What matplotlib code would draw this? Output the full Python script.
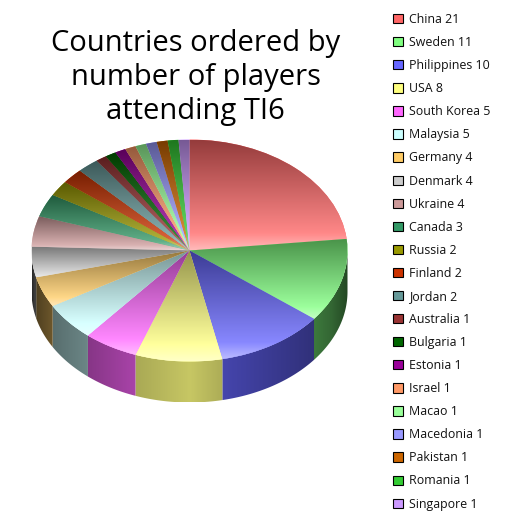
import numpy as np
import matplotlib
matplotlib.use("Agg")
import matplotlib.pyplot as plt
from matplotlib.patches import Patch, Polygon
from matplotlib.colors import to_rgb

countries = ["China", "Sweden", "Philippines", "USA", "South Korea", "Malaysia", "Germany",
             "Denmark", "Ukraine", "Canada", "Russia", "Finland", "Jordan", "Australia",
             "Bulgaria", "Estonia", "Israel", "Macao", "Macedonia", "Pakistan", "Romania", "Singapore"]
players = [21, 11, 10, 8, 5, 5, 4, 4, 4, 3, 2, 2, 2, 1, 1, 1, 1, 1, 1, 1, 1, 1]
colors = ["#FF6666", "#80FF80", "#6666FF", "#FFFF80", "#FF66FF", "#CCFFFF", "#FFCC66", "#CCCCCC",
          "#CC9999", "#339966", "#999900", "#CC3300", "#669999", "#993333", "#006600", "#990099",
          "#FF9966", "#99FF99", "#9999FF", "#CC6600", "#33CC33", "#CC99FF"]
title_lines = ["Countries ordered by", "number of players", "attending TI6"]

W = 520
plt.rcParams["font.family"] = "Open Sans"
fig = plt.figure(figsize=(W / 100, W / 100), dpi=100, facecolor="white")

depth = 41 / 111
ax = fig.add_axes([31.5 / W, (W - 402.5) / W, 316 / W, 263 / W])
wedges, _ = ax.pie(players, colors=colors, startangle=90, counterclock=False, radius=1,
                   wedgeprops={"linewidth": 0})

shade_x = np.array([-1.0, -0.985, -0.87, -0.64, -0.35, 0.0, 0.2, 0.78, 0.9, 1.0])
shade_v = np.array([0.2, 0.3, 0.43, 0.53, 0.66, 0.78, 0.68, 0.48, 0.4, 0.28])


def top_gradient(rgb, n=128):
    t = np.linspace(0, 1, n)[:, None]  # 0 = top of slice, 1 = bottom
    c = np.array(rgb)[None, :]
    dark = c * 0.58
    mid = c + (1 - c) * 0.22
    light = c + (1 - c) * 0.55
    out = np.where(t < 0.85, dark + (mid - dark) * t / 0.85, mid + (light - mid) * (t - 0.85) / 0.15)
    return out[:, None, :]


# walls
xs = np.linspace(-1, 1, 400)
shade = np.interp(xs, shade_x, shade_v)
for w, col in zip(wedges, colors):
    a = np.radians(np.linspace(w.theta1, w.theta2, 200))
    lower = a[np.sin(a) <= 0]
    if lower.size < 2:
        continue
    x, y = np.cos(lower), np.sin(lower)
    pts = np.r_[np.c_[x, y], np.c_[x[::-1], y[::-1] - depth]]
    poly = Polygon(pts, closed=True, transform=ax.transData, fc="none", ec="none")
    ax.add_patch(poly)
    img = shade[None, :, None] * np.array(to_rgb(col))[None, None, :]
    im = ax.imshow(img, extent=(-1, 1, -1 - depth, 0), aspect="auto", zorder=2, interpolation="bilinear")
    im.set_clip_path(poly)

# top surface
for w, col in zip(wedges, colors):
    a = np.radians(np.linspace(w.theta1, w.theta2, 300))
    ys = np.r_[np.sin(a), 0]
    im = ax.imshow(top_gradient(to_rgb(col)), extent=(-1, 1, ys.min(), ys.max()), origin="upper",
                   aspect="auto", zorder=3, interpolation="bilinear")
    im.set_clip_path(w)
    w.set_zorder(2.5)

ax.set_aspect("auto")
ax.set_xlim(-1, 1)
ax.set_ylim(-1 - depth, 1)
ax.axis("off")

# title
for line, y in zip(title_lines, [43, 78, 111]):
    fig.text(195.5 / W, 1 - y / W, line, ha="center", va="center", fontsize=21, color="black")

# legend
handles = [Patch(facecolor=c, edgecolor="black", linewidth=0.8) for c in colors]
labels = [f"{n} {v}" for n, v in zip(countries, players)]
fig.legend(handles, labels, loc="upper left", bbox_to_anchor=(393 / W, 1 - 13 / W),
           frameon=False, fontsize=8.9, handlelength=0.78, handleheight=0.78, handletextpad=0.5,
           labelspacing=0.815, borderpad=0, borderaxespad=0, labelcolor="#111111")

fig.savefig("out.png", dpi=100, facecolor="white")
